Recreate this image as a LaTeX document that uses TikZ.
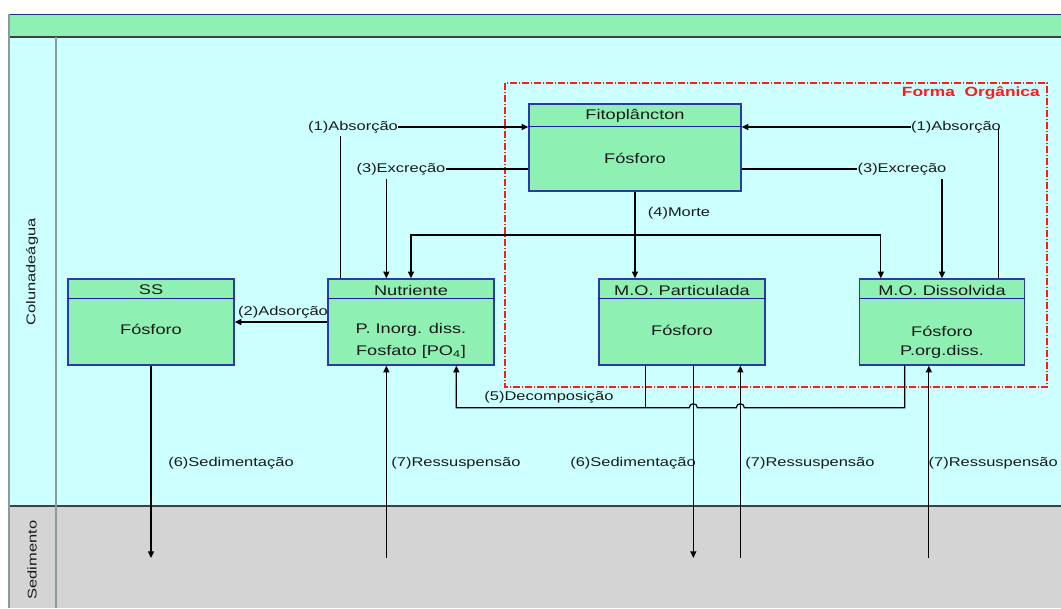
\documentclass[tikz,border=0pt]{standalone}
\usepackage{fontspec}
\setmainfont[FakeStretch=1.3]{Liberation Sans}
\usetikzlibrary{calc,arrows.meta}
\definecolor{cyanbg}{HTML}{CCFFFF}
\definecolor{boxgreen}{HTML}{8FF0B4}
\definecolor{boxblue}{HTML}{2A3AA8}
\definecolor{hdrblue}{HTML}{1A1AA0}
\definecolor{sedgray}{HTML}{D4D4D4}
\definecolor{framegray}{HTML}{8C9A9A}
\definecolor{txtdark}{HTML}{1A1A1A}
\definecolor{orgred}{HTML}{FF1A1A}
\def\pxu{0.75pt}
\tikzset{
  box/.style={draw=boxblue, line width=1pt, fill=boxgreen, rectangle, inner sep=0pt},
  hdr/.style={draw=hdrblue, line width=0.9pt},
  btxt/.style={inner sep=0pt, font=\fontsize{10.5}{12}\selectfont, text=txtdark, align=center},
  lbl/.style={inner sep=0pt, font=\fontsize{9.5}{11}\selectfont, text=txtdark},
  conn/.style={draw=black, line width=0.9pt},
  arr/.style={-{Triangle[length=5pt,width=4.5pt]}},
}
\begin{document}
\begin{tikzpicture}[x=0.75pt,y=-0.75pt]
\useasboundingbox (0,0) rectangle (1061,608);
% background lanes
\fill[white] (0,0) rectangle (1061,608);
\fill[cyanbg] (8,37) rectangle (1061,506);
\fill[sedgray] (8,506) rectangle (1061,608);
\fill[boxgreen] (8,14) rectangle (1061,37);
\draw[draw=boxblue!80!black, line width=1.2pt] (8,14.5) -- (1061,14.5);
\draw[draw=black!75, line width=1.4pt] (8,37) -- (1061,37);
\draw[draw=black!75, line width=1.3pt] (8,506) -- (1061,506);
\draw[draw=framegray, line width=1.6pt] (9,14) -- (9,608);
\draw[draw=framegray, line width=1.4pt] (56,37) -- (56,608);
\node[rotate=90, inner sep=0pt, font=\fontsize{9.5}{11}\selectfont, text=txtdark] (laneA) at (32,272) {Colunadeágua};
\node[rotate=90, inner sep=0pt, font=\fontsize{9.5}{11}\selectfont, text=txtdark] (laneB) at (32,560) {Sedimento};
% organic form frame
\draw[draw=orgred, line width=1.1pt, dash pattern=on 5pt off 1.5pt on 1pt off 1.5pt] (505,83) rectangle (1047,387);
\node[inner sep=0pt, anchor=east, font=\fontsize{10}{12}\selectfont\bfseries, text=orgred] (forg) at (1040,93) {Forma\ \ Orgânica};
% boxes
\node[box, minimum width=212*\pxu, minimum height=87*\pxu] (fito) at (635,147.5) {};
\node[box, minimum width=166*\pxu, minimum height=86*\pxu] (ss) at (151,322) {};
\node[box, minimum width=166*\pxu, minimum height=86*\pxu] (nut) at (411,322) {};
\node[box, minimum width=166*\pxu, minimum height=86*\pxu] (mop) at (682,322) {};
\node[box, minimum width=165*\pxu, minimum height=86*\pxu] (mod) at (942,322) {};
\draw[hdr] ($(fito.north west)+(0,23)$) -- ($(fito.north east)+(0,23)$);
\foreach \b in {ss,nut,mop,mod}{
  \draw[hdr] ($(\b.north west)+(0,20)$) -- ($(\b.north east)+(0,20)$);
}
% box texts
\node[btxt] (fitoH) at (635,116) {Fitoplâncton};
\node[btxt] (fitoB) at (635,158) {Fósforo};
\node[btxt] (ssH) at (151,290) {SS};
\node[btxt] (ssB) at (151,329) {Fósforo};
\node[btxt] (nutH) at (411,290) {Nutriente};
\node[btxt] (nutB1) at (411,330) {P. Inorg. diss.};
\node[btxt] (nutB2) at (411,352) {Fosfato [PO\textsubscript{4}]};
\node[btxt] (mopH) at (682,290) {M.O. Particulada};
\node[btxt] (mopB) at (682,330) {Fósforo};
\node[btxt] (modH) at (942,290) {M.O. Dissolvida};
\node[btxt] (modB1) at (942,331) {Fósforo};
\node[btxt] (modB2) at (942,352) {P.org.diss.};
% labels
\node[lbl] (abs1) at (353,127) {(1)Absorção};
\node[lbl] (exc1) at (401,169) {(3)Excreção};
\node[lbl] (abs2) at (956,127) {(1)Absorção};
\node[lbl] (exc2) at (902,169) {(3)Excreção};
\node[lbl] (morte) at (679,213) {(4)Morte};
\node[lbl] (adso) at (283,312) {(2)Adsorção};
\node[lbl] (deco) at (549,397) {(5)Decomposição};
\node[lbl] (sed1) at (231,463) {(6)Sedimentação};
\node[lbl] (res1) at (456,463) {(7)Ressuspensão};
\node[lbl] (sed2) at (633,463) {(6)Sedimentação};
\node[lbl] (res2) at (810,463) {(7)Ressuspensão};
\node[lbl, anchor=east] (res3) at (1058,463) {(7)Ressuspensão};
% helper coordinates
\coordinate (n1) at ($(nut.north west)+(13,0)$);
\coordinate (n2) at ($(nut.north west)+(59,0)$);
\coordinate (n2b) at ($(nut.south west)+(59,0)$);
\coordinate (d2) at ($(mod.north west)+(22,0)$);
\coordinate (d3) at ($(mod.north west)+(140,0)$);
\coordinate (mj) at ($(fito.south)!0.5!(fito.south |- mop.north)$);
\coordinate (p1) at ($(mop.south west)+(47,0)$);
\coordinate (s2) at ($(mop.south west)+(95,0)$);
\coordinate (s3) at ($(mop.south west)+(142,0)$);
\coordinate (q1) at ($(mod.south west)+(46,0)$);
\coordinate (q2) at ($(mod.south west)+(70,0)$);
\coordinate (r1) at ($(nut.south west)+(129,0)$);
\coordinate (dline) at ($(nut.south)+(0,42)$);
\coordinate (sedbot) at (0,558);
% (1) absorption, left
\draw[conn] (n1) -- ($(n1 |- abs1.south)+(0,3)$);
\draw[conn,arr] (abs1.east) -- (abs1.east -| fito.west);
% (3) excretion, left
\draw[conn] (exc1.east -| fito.west) -- (exc1.east);
\draw[conn,arr] ($(n2 |- exc1.south)+(0,4)$) -- (n2);
% (1) absorption, right
\draw[conn] (d3) -- ($(d3 |- abs2.center)+(0,1)$);
\draw[conn,arr] (abs2.west) -- (abs2.west -| fito.east);
% (3) excretion, right
\draw[conn] (exc2.west -| fito.east) -- (exc2.west);
\draw[conn,arr] ($(mod.north |- exc2.south)+(0,4)$) -- (mod.north);
% (4) death
\draw[conn,arr] (fito.south) -- (fito.south |- mop.north);
\draw[conn,arr] (mj) -- (mj -| nut.north) -- (nut.north);
\draw[conn,arr] (mj) -- (mj -| d2) -- (d2);
% (2) adsorption
\draw[conn,arr] (nut.west) -- (ss.east);
% (5) decomposition
\draw[conn] (p1) -- (p1 |- dline);
\draw[conn,arr] (q1) -- (q1 |- dline) -- ($(s3 |- dline)+(4,0)$)
  arc[start angle=0, end angle=180, radius=3pt] -- ($(s2 |- dline)+(4,0)$)
  arc[start angle=0, end angle=180, radius=3pt] -- (r1 |- dline) -- (r1);
% (6) sedimentation / (7) resuspension
\draw[conn,arr] (ss.south) -- (ss.south |- sedbot);
\draw[conn,arr] (n2 |- sedbot) -- (n2b);
\draw[conn,arr] (s2) -- (s2 |- sedbot);
\draw[conn,arr] (s3 |- sedbot) -- (s3);
\draw[conn,arr] (q2 |- sedbot) -- (q2);
\end{tikzpicture}
\end{document}
